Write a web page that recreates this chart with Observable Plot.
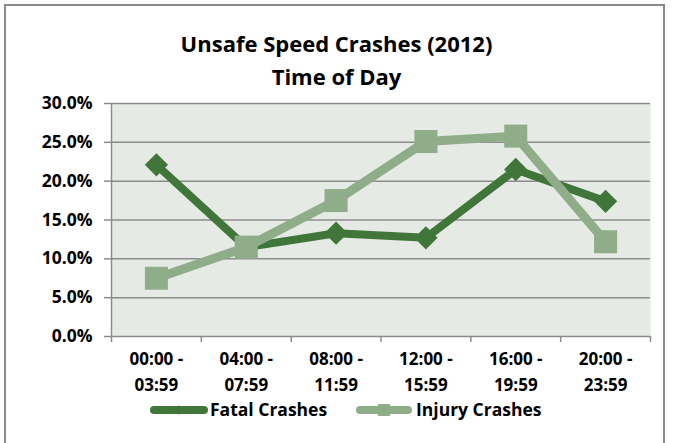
<!DOCTYPE html>
<html><head><meta charset="utf-8">
<script src="https://cdn.jsdelivr.net/npm/d3@7"></script>
<script src="https://cdn.jsdelivr.net/npm/@observablehq/plot@0.6"></script>
<style>
body{margin:0;background:#fff;font-family:"Open Sans",sans-serif;}
#wrap{position:relative;width:673px;height:443px;overflow:hidden;background:#fff}
#border{position:absolute;left:4px;top:4px;width:661px;height:460px;border:2px solid #8a8a8a;box-sizing:border-box}
#title{position:absolute;left:0;width:673px;top:27px;text-align:center;font-weight:700;font-size:22px;line-height:33px;color:#000}
#chart{position:absolute;left:0;top:90px}
#legend{position:absolute;left:0;top:395px}
</style></head>
<body>
<div id="wrap">
<div id="border"></div>
<div id="title">Unsafe Speed Crashes (2012)<br>Time of Day</div>
<div id="chart"></div>
<div id="legend"></div>
</div>
<script>
const categories = ["00:00 -\n03:59", "04:00 -\n07:59", "08:00 -\n11:59", "12:00 -\n15:59", "16:00 -\n19:59", "20:00 -\n23:59"];
const fatal = [22.1, 11.5, 13.3, 12.7, 21.5, 17.4];
const injury = [7.5, 11.5, 17.5, 25.1, 25.8, 12.2];
const yTicks = [0, 5, 10, 15, 20, 25, 30];
const seriesNames = ["Fatal Crashes", "Injury Crashes"];
const fatalColor = "#41763a";
const injuryColor = "#8fad89";

const fatalRows = fatal.map((v, i) => ({x: i + 0.5, y: v}));
const injuryRows = injury.map((v, i) => ({x: i + 0.5, y: v}));
const catRows = categories.map((c, i) => ({x: i + 0.5, label: c}));

const chart = Plot.plot({
  width: 673, height: 310,
  marginTop: 13, marginBottom: 64, marginLeft: 111, marginRight: 23,
  x: {domain: [0, 6], axis: null},
  y: {domain: [0, 30], axis: null},
  style: {fontFamily: "Open Sans", fontWeight: 700, fontSize: "16px", color: "#000", background: "transparent", overflow: "visible"},
  marks: [
    Plot.frame({fill: "#e6eae5", stroke: null}),
    Plot.ruleY(yTicks, {stroke: "#8c8c8c", strokeWidth: 1.5, strokeOpacity: 1}),
    Plot.ruleX([0], {stroke: "#8c8c8c", strokeWidth: 1.5, strokeOpacity: 1}),
    Plot.axisY({ticks: yTicks, label: null, tickSize: 7, tickPadding: 12, tickFormat: d => d.toFixed(1) + "%", stroke: "#8c8c8c", strokeWidth: 1.5, strokeOpacity: 1, fontSize: 17.5, fontWeight: 700, fill: "#000"}),
    Plot.axisX({ticks: d3.range(0, 7), label: null, tickSize: 6, tickFormat: () => "", stroke: "#8c8c8c", strokeWidth: 1.5, strokeOpacity: 1}),
    Plot.text(catRows, {x: "x", y: () => 0, dy: 33, text: "label", lineHeight: 1.55, fontSize: 17, fontWeight: 700, fill: "#000"}),
    Plot.line(fatalRows, {x: "x", y: "y", stroke: fatalColor, strokeWidth: 8}),
    Plot.dot(fatalRows, {x: "x", y: "y", symbol: "diamond2", r: 10.5, fill: fatalColor, stroke: null}),
    Plot.line(injuryRows, {x: "x", y: "y", stroke: injuryColor, strokeWidth: 9}),
    Plot.dot(injuryRows, {x: "x", y: "y", symbol: "square", r: 13, fill: injuryColor, stroke: null})
  ]
});
document.getElementById("chart").appendChild(chart);

// legend
const lg = d3.select("#legend").append("svg").attr("width", 673).attr("height", 30)
  .style("font-family", "Open Sans").style("font-weight", 700).style("font-size", "17.5px");
const items = [
  {name: seriesNames[0], color: fatalColor, x0: 150, x1: 208, tx: 210, sym: "diamond"},
  {name: seriesNames[1], color: injuryColor, x0: 356, x1: 412, tx: 416, sym: "square"}
];
items.forEach(it => {
  lg.append("line").attr("x1", it.x0 + 4).attr("x2", it.x1 - 4).attr("y1", 15).attr("y2", 15)
    .attr("stroke", it.color).attr("stroke-width", 8).attr("stroke-linecap", "round");
  const cx = (it.x0 + it.x1) / 2;
  if (it.sym === "diamond") {
    lg.append("path").attr("d", d3.symbol(d3.symbolDiamond2, 60)()).attr("transform", `translate(${cx},15)`).attr("fill", it.color);
  } else {
    lg.append("rect").attr("x", cx - 6).attr("y", 9).attr("width", 12).attr("height", 12).attr("fill", it.color);
  }
  lg.append("text").attr("x", it.tx).attr("y", 15).attr("dy", "0.35em").attr("fill", "#000").text(it.name);
});
</script>
</body></html>
